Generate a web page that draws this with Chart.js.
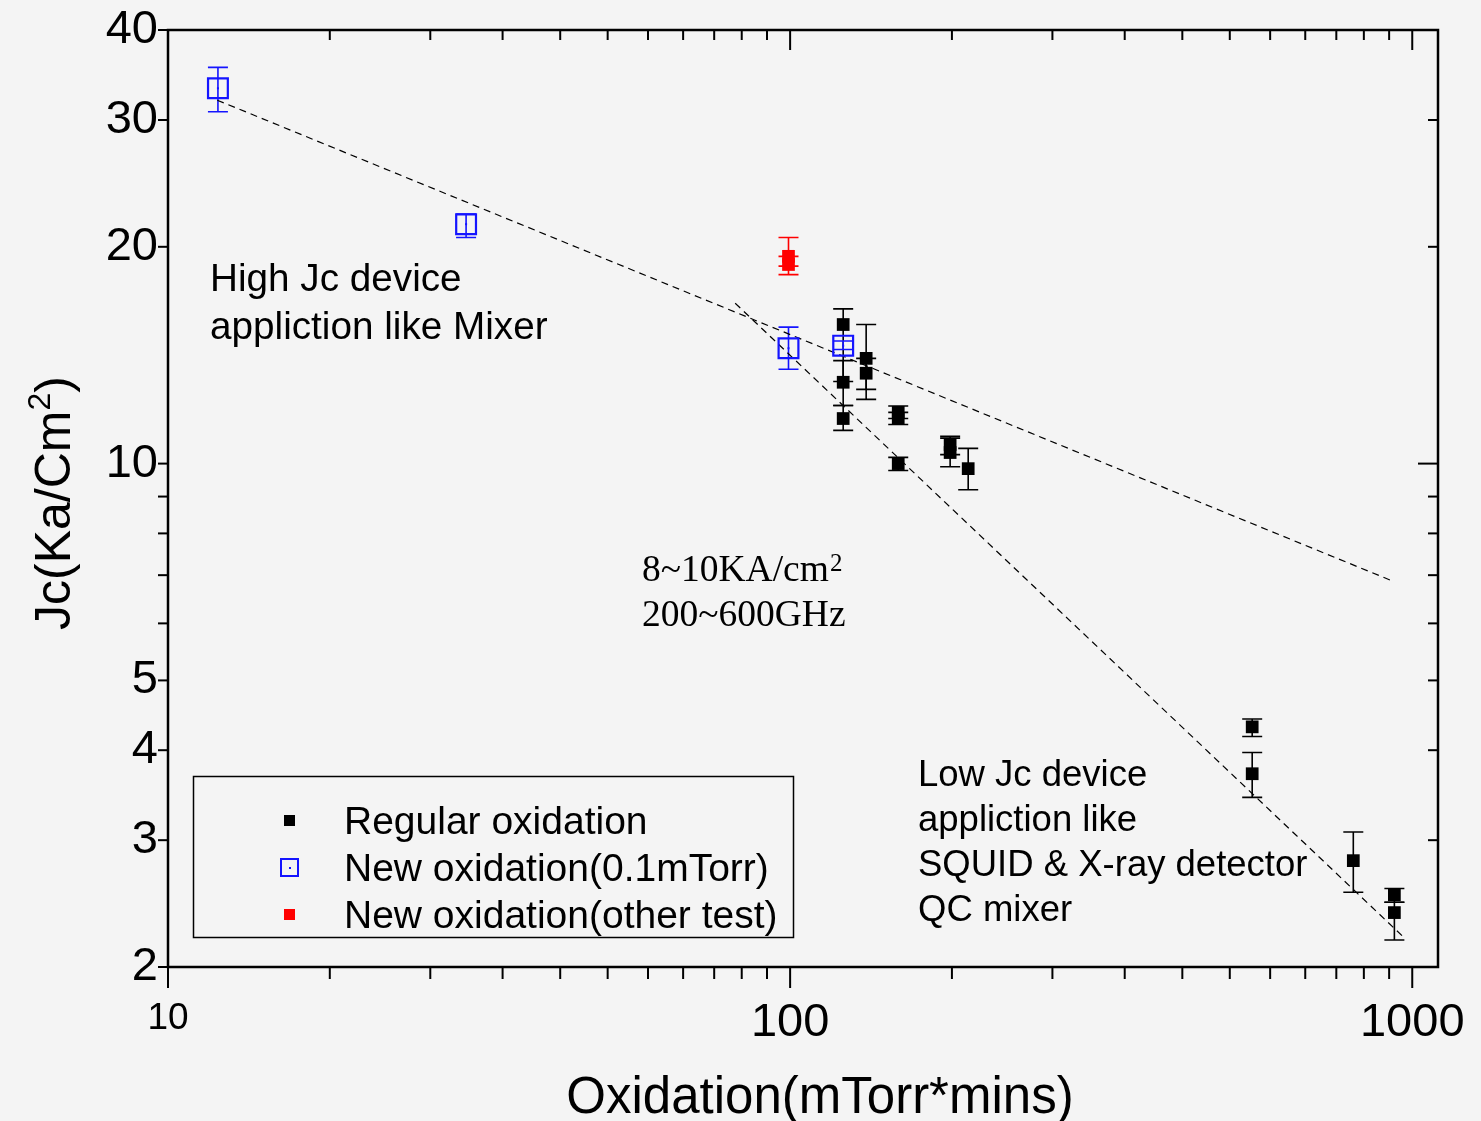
<!DOCTYPE html>
<html>
<head>
<meta charset="utf-8">
<script src="https://cdn.jsdelivr.net/npm/chart.js@4.4.0/dist/chart.umd.min.js"></script>
<style>
  html, body { margin: 0; padding: 0; background: #f4f4f4; }
  #wrap { width: 1481px; height: 1121px; position: relative; }
</style>
</head>
<body>
<div id="wrap"><canvas id="jc-chart"></canvas></div>
<script>
// Regular oxidation: exposure (mTorr*mins), Jc (KA/cm2) and error bar limits
const regularX    = [121.7, 121.7, 121.7, 132.5, 132.5, 149.2, 149.2, 149.2, 180.8, 180.8, 193.3, 553, 553, 804, 936, 936];
const regularJc   = [15.6, 12.97, 11.55, 14.0, 13.35, 11.78, 11.55, 10.0, 10.63, 10.36, 9.84, 4.31, 3.71, 2.81, 2.52, 2.38];
const regularLow  = [13.0, 12.04, 11.12, 12.68, 12.28, 11.55, 11.33, 9.78, 10.29, 9.9, 9.2, 4.18, 3.44, 2.54, 2.46, 2.18];
const regularHigh = [16.4, 13.9, 12.04, 15.6, 14.0, 12.02, 11.78, 10.2, 10.91, 10.85, 10.5, 4.42, 3.97, 3.08, 2.57, 2.46];

// New oxidation at 0.1 mTorr
const newX    = [12.03, 30.14, 99.4, 121.7];
const newJc   = [33.2, 21.5, 14.46, 14.58];
const newLow  = [30.8, 20.6, 13.52, 14.4];
const newHigh = [35.5, 22.2, 15.47, 14.8];

// New oxidation, other test
const otherX    = [99.4, 99.4];
const otherJc   = [19.4, 18.9];
const otherLow  = [18.8, 18.3];
const otherHigh = [20.6, 19.4];

// dashed trend lines (end points)
const trendHighX  = [12.0, 922];
const trendHighJc = [31.96, 6.89];
const trendLowX   = [81.6, 974];
const trendLowJc  = [16.7, 2.19];

// axis ticks
const xLabelTicks = [10, 100, 1000];
const xMinorSteps = [1.82, 2.64, 3.45, 4.27, 5.09, 5.91, 6.73, 7.55, 8.36, 9.18];
const yLabelTicks = [2, 3, 4, 5, 10, 20, 30, 40];
const yMinorTicks = [6, 7, 8, 9];

const fontSans = '"Liberation Sans", Arial, sans-serif';
const fontSerif = '"Liberation Serif", "Times New Roman", serif';

const toPoints = (xs, ys) => xs.map((x, i) => ({ x: x, y: ys[i] }));

// error bars go under the markers, centre dot goes on top of the open squares
const errorBars = {
  id: 'errorBars',
  beforeDatasetsDraw(chart) {
    const c = chart.ctx;
    const xs = chart.scales.x, ys = chart.scales.y;
    chart.data.datasets.forEach(ds => {
      if (!ds.errLow) return;
      c.save();
      c.strokeStyle = ds.borderColor;
      c.lineWidth = 1.6;
      ds.data.forEach((p, i) => {
        const px = xs.getPixelForValue(p.x);
        const lo = ys.getPixelForValue(ds.errLow[i]);
        const hi = ys.getPixelForValue(ds.errHigh[i]);
        c.beginPath();
        c.moveTo(px, lo); c.lineTo(px, hi);
        c.moveTo(px - 10, lo); c.lineTo(px + 10, lo);
        c.moveTo(px - 10, hi); c.lineTo(px + 10, hi);
        c.stroke();
      });
      c.restore();
    });
  },
  afterDatasetsDraw(chart) {
    const c = chart.ctx;
    const xs = chart.scales.x, ys = chart.scales.y;
    chart.data.datasets.forEach(ds => {
      if (!ds.centerDot) return;
      c.fillStyle = ds.borderColor;
      ds.data.forEach(p => {
        c.fillRect(xs.getPixelForValue(p.x) - 1, ys.getPixelForValue(p.y) - 1, 2, 2);
      });
    });
  }
};

// box frame with ticks: outward on bottom/left, inward on top/right
const frame = {
  id: 'frame',
  afterDraw(chart) {
    const c = chart.ctx, a = chart.chartArea;
    const xs = chart.scales.x, ys = chart.scales.y;
    const line = (x1, y1, x2, y2) => { c.beginPath(); c.moveTo(x1, y1); c.lineTo(x2, y2); c.stroke(); };
    c.save();
    c.strokeStyle = '#000';
    c.lineWidth = 2;
    xLabelTicks.forEach(v => {
      const px = xs.getPixelForValue(v);
      line(px, a.bottom, px, a.bottom + 21);
      line(px, a.top, px, a.top + 20);
    });
    [10, 100].forEach(dec => {
      xMinorSteps.forEach(s => {
        const px = xs.getPixelForValue(dec * s);
        line(px, a.bottom, px, a.bottom + 12);
        line(px, a.top, px, a.top + 10);
      });
    });
    yLabelTicks.concat(yMinorTicks).forEach(v => {
      const py = ys.getPixelForValue(v);
      line(a.left - 10, py, a.left, py);
      if (v < 40 && v > 2) line(a.right - (v === 10 ? 20 : 10), py, a.right, py);
    });
    c.lineWidth = 2.5;
    c.strokeRect(a.left, a.top, a.right - a.left, a.bottom - a.top);
    c.restore();
  }
};

// axis titles, annotations and the boxed legend
const notes = {
  id: 'notes',
  afterDraw(chart) {
    const c = chart.ctx;
    c.save();
    c.fillStyle = '#000';
    c.textBaseline = 'alphabetic';

    // x title
    c.font = '51px ' + fontSans;
    c.textAlign = 'center';
    c.fillText('Oxidation(mTorr*mins)', 820, 1113);

    // y title, rotated, with superscript 2
    c.save();
    c.translate(70, 503);
    c.rotate(-Math.PI / 2);
    c.textAlign = 'left';
    const p1 = 'Jc(Ka/Cm', p3 = ')';
    c.font = '50px ' + fontSans;
    const w1 = c.measureText(p1).width, w3 = c.measureText(p3).width;
    c.font = '32px ' + fontSans;
    const w2 = c.measureText('2').width;
    let x0 = -(w1 + w2 + w3) / 2;
    c.font = '50px ' + fontSans;
    c.fillText(p1, x0, 0);
    c.font = '32px ' + fontSans;
    c.fillText('2', x0 + w1, -20);
    c.font = '50px ' + fontSans;
    c.fillText(p3, x0 + w1 + w2, 0);
    c.restore();

    c.textAlign = 'left';
    c.font = '38.7px ' + fontSans;
    c.fillText('High Jc device', 210, 291);
    c.fillText('appliction like Mixer', 210, 339);
    c.font = '36.5px ' + fontSans;
    c.fillText('Low Jc device', 918, 786);
    c.fillText('appliction like', 918, 831);
    c.fillText('SQUID & X-ray detector', 918, 876);
    c.fillText('QC mixer', 918, 921);

    c.font = '37.5px ' + fontSerif;
    c.fillText('8~10KA/cm', 642, 581);
    const wc = c.measureText('8~10KA/cm').width;
    c.fillText('200~600GHz', 642, 626);
    c.font = '25px ' + fontSerif;
    c.fillText('2', 642 + wc + 1, 571);

    // legend
    c.strokeStyle = '#000';
    c.lineWidth = 1.5;
    c.strokeRect(193.5, 776.5, 600, 161);
    const rows = [820, 867, 914];
    chart.data.datasets.slice(0, 3).forEach((ds, i) => {
      const y = rows[i];
      if (ds.centerDot) {
        c.strokeStyle = ds.borderColor;
        c.lineWidth = 2;
        c.strokeRect(281, y - 8, 17, 17);
        c.fillStyle = ds.borderColor;
        c.fillRect(289, y, 2, 2);
      } else {
        c.fillStyle = ds.backgroundColor;
        c.fillRect(284, y - 5, 11, 11);
      }
      c.fillStyle = '#000';
      c.font = '39px ' + fontSans;
      c.fillText(ds.label, 344, y + 14);
    });
    c.restore();
  }
};

const ctx = document.getElementById('jc-chart').getContext('2d');

new Chart(ctx, {
  type: 'scatter',
  data: {
    datasets: [
      {
        label: 'Regular oxidation',
        data: toPoints(regularX, regularJc),
        errLow: regularLow, errHigh: regularHigh,
        pointStyle: 'rect', pointRadius: 9,
        backgroundColor: '#000000', borderColor: '#000000', borderWidth: 0
      },
      {
        label: 'New oxidation(0.1mTorr)',
        data: toPoints(newX, newJc),
        errLow: newLow, errHigh: newHigh, centerDot: true,
        pointStyle: 'rect', pointRadius: 14,
        backgroundColor: 'rgba(0,0,0,0)', borderColor: '#1414ff', borderWidth: 2.2
      },
      {
        label: 'New oxidation(other test)',
        data: toPoints(otherX, otherJc),
        errLow: otherLow, errHigh: otherHigh,
        pointStyle: 'rect', pointRadius: 9,
        backgroundColor: '#ff0000', borderColor: '#ff0000', borderWidth: 0
      },
      {
        label: 'trend high',
        data: toPoints(trendHighX, trendHighJc),
        showLine: true, pointRadius: 0,
        borderColor: '#000000', borderWidth: 1.2, borderDash: [7, 5]
      },
      {
        label: 'trend low',
        data: toPoints(trendLowX, trendLowJc),
        showLine: true, pointRadius: 0,
        borderColor: '#000000', borderWidth: 1.2, borderDash: [7, 5]
      }
    ]
  },
  options: {
    responsive: true,
    maintainAspectRatio: false,
    animation: false,
    layout: { padding: { left: 0, top: 30, right: 43, bottom: 0 } },
    plugins: {
      legend: { display: false },
      tooltip: { enabled: false }
    },
    scales: {
      x: {
        type: 'logarithmic',
        min: 10,
        max: 1100,
        afterBuildTicks: s => { s.ticks = xLabelTicks.map(v => ({ value: v })); },
        afterFit: s => { s.height = 154; },
        grid: { display: false, drawTicks: false },
        border: { display: false },
        ticks: {
          color: '#000',
          padding: 0,
          autoSkip: false,
          maxRotation: 0,
          // line height sets how far below the axis each label sits
          font: c => (c.tick && c.tick.value === 10)
            ? { family: fontSans, size: 37, lineHeight: 2.8 }
            : { family: fontSans, size: 47, lineHeight: 2.4 },
          callback: v => String(v)
        }
      },
      y: {
        type: 'logarithmic',
        min: 2,
        max: 40,
        afterBuildTicks: s => { s.ticks = yLabelTicks.map(v => ({ value: v })); },
        afterFit: s => { s.width = 168; },
        grid: { display: false, drawTicks: false },
        border: { display: false },
        ticks: {
          color: '#000',
          padding: 10,
          autoSkip: false,
          font: { family: fontSans, size: 47, lineHeight: 0.8 },
          callback: v => String(v)
        }
      }
    }
  },
  plugins: [errorBars, frame, notes]
});
</script>
</body>
</html>
